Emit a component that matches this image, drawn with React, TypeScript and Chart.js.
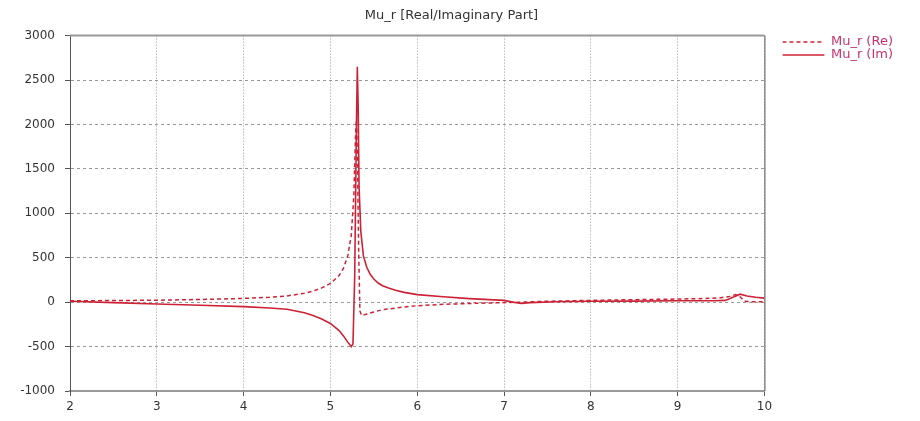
import React, { useEffect, useRef } from "react";
import { Chart, registerables } from "chart.js";

Chart.register(...registerables);

const chartTitle = "Mu_r [Real/Imaginary Part]";
const seriesLabels = ["Mu_r (Re)", "Mu_r (Im)"];

const xRange = [2, 10];
const yRange = [-1000, 3000];

// Real part (dashed)
const reFreq = [
  2.0, 2.5, 3.0, 3.5, 4.0, 4.3, 4.5, 4.7, 4.8, 4.9, 5.0, 5.1, 5.15, 5.2, 5.24,
  5.27, 5.29, 5.3, 5.31, 5.325, 5.34, 5.36, 5.4, 5.5, 5.6, 5.8, 6.0, 6.3, 6.6,
  7.0, 7.2, 7.5, 8.0, 8.5, 9.0, 9.3, 9.5, 9.6, 9.67, 9.72, 9.77, 9.85, 10.0,
];
const reValues = [
  15, 18, 22, 30, 42, 55, 70, 100, 125, 160, 210, 300, 380, 520, 750,
  1200, 1900, 2050, 1700, 600, -100, -150, -140, -110, -85, -60, -40, -25, -15,
  -5, 0, 10, 20, 28, 35, 40, 50, 65, 85, 60, 10, 5, 5,
];

// Imaginary part (solid)
const imFreq = [
  2.0, 2.5, 3.0, 3.5, 4.0, 4.3, 4.5, 4.7, 4.8, 4.9, 5.0, 5.1, 5.15, 5.2, 5.24,
  5.26, 5.28, 5.3, 5.31, 5.32, 5.33, 5.35, 5.38, 5.42, 5.46, 5.5, 5.55, 5.6,
  5.67, 5.75, 5.85, 6.0, 6.3, 6.6, 7.0, 7.1, 7.2, 7.3, 7.6, 8.0, 8.5, 9.0, 9.4,
  9.55, 9.65, 9.72, 9.8, 9.9, 10.0,
];
const imValues = [
  10, -5, -20, -35, -50, -65, -80, -120, -150, -190, -240, -320, -380, -450, -500,
  -470, 300, 2000, 2650, 2200, 1300, 800, 520, 390, 310, 260, 215, 185,
  160, 135, 110, 85, 60, 40, 20, 0, -15, -5, 5, 10, 12, 15, 15,
  20, 60, 90, 70, 55, 45,
];

const LINE_COLOR = "#cc2236";
const RE_DASH = [4, 3];
const FONT_FAMILY = "'DejaVu Sans', Verdana, sans-serif";

const toPoints = (xs: number[], ys: number[]) => xs.map((x, i) => ({ x, y: ys[i] }));

const framePlugin = {
  id: "frame",
  afterDraw(chart: any) {
    const { ctx, chartArea } = chart;
    const { left, top, right, bottom } = chartArea;
    ctx.save();
    ctx.strokeStyle = "#999";
    ctx.lineWidth = 2;
    ctx.beginPath();
    ctx.moveTo(left, top);
    ctx.lineTo(right, top);
    ctx.stroke();
    ctx.strokeStyle = "#555";
    ctx.lineWidth = 1;
    ctx.beginPath();
    ctx.moveTo(right + 0.5, top);
    ctx.lineTo(right + 0.5, bottom);
    ctx.stroke();
    ctx.restore();
  },
};

export default function App() {
  const canvasRef = useRef<HTMLCanvasElement | null>(null);

  useEffect(() => {
    document.body.style.margin = "0";
    const canvas = canvasRef.current;
    if (!canvas) return;
    const chart = new Chart(canvas, {
      type: "line",
      data: {
        datasets: [
          {
            label: seriesLabels[0],
            data: toPoints(reFreq, reValues),
            borderColor: LINE_COLOR,
            backgroundColor: LINE_COLOR,
            borderWidth: 1.5,
            borderDash: RE_DASH,
            pointRadius: 0,
            tension: 0,
            yAxisID: "y",
          },
          {
            label: seriesLabels[1],
            data: toPoints(imFreq, imValues),
            borderColor: LINE_COLOR,
            backgroundColor: LINE_COLOR,
            borderWidth: 1.6,
            pointRadius: 0,
            tension: 0,
            yAxisID: "y",
          },
        ],
      },
      options: {
        animation: false,
        responsive: true,
        maintainAspectRatio: false,
        devicePixelRatio: 1,
        layout: { padding: { left: 0, right: 17, top: 0, bottom: 0 } },
        font: { family: FONT_FAMILY },
        plugins: {
          title: {
            display: true,
            text: chartTitle,
            color: "#333",
            font: { family: FONT_FAMILY, size: 13, weight: "normal" },
            padding: { top: 8, bottom: 12 },
          },
          legend: {
            position: "right",
            align: "start",
            fullSize: false,
            labels: {
              usePointStyle: true,
              pointStyle: "line",
              pointStyleWidth: 42,
              padding: 0,
              color: "#c8336e",
              font: { family: FONT_FAMILY, size: 13 },
              generateLabels: (ch: any) => {
                const items = Chart.defaults.plugins.legend.labels.generateLabels(ch);
                return items.map((it: any, i: number) => ({
                  ...it,
                  lineDash: i === 0 ? RE_DASH : [],
                  lineWidth: 1.5,
                  strokeStyle: LINE_COLOR,
                  fillStyle: LINE_COLOR,
                  fontColor: "#c8336e",
                  pointStyle: "line",
                }));
              },
            },
          },
          tooltip: { enabled: false },
        },
        scales: {
          x: {
            type: "linear",
            min: xRange[0],
            max: xRange[1],
            ticks: {
              stepSize: 1,
              padding: 4,
              color: "#333",
              font: { family: FONT_FAMILY, size: 12 },
              callback: (v: any) => String(v),
            },
            grid: {
              color: "#999",
              lineWidth: 1,
              tickLength: 5,
              tickColor: "#555",
              tickBorderDash: [],
            },
            border: { color: "#999", width: 2, dash: [1, 2] },
            afterFit: (s: any) => {
              s.height = 30;
            },
          },
          y: {
            type: "linear",
            position: "left",
            min: yRange[0],
            max: yRange[1],
            ticks: {
              stepSize: 500,
              padding: 10,
              color: "#333",
              font: { family: FONT_FAMILY, size: 12 },
              callback: (v: any) => String(v),
            },
            grid: {
              color: "#999",
              lineWidth: 1,
              tickLength: 5,
              tickColor: "#555",
              tickBorderDash: [],
            },
            border: { color: "#555", width: 1, dash: [3, 3] },
            afterFit: (s: any) => {
              s.width = 70;
            },
          },
          yR: {
            type: "linear",
            position: "right",
            display: true,
            grid: { display: false, drawTicks: false },
            border: { display: false },
            ticks: { display: false },
            afterFit: (s: any) => {
              s.width = 18;
            },
          },
        },
      } as any,
      plugins: [framePlugin],
    });
    return () => chart.destroy();
  }, []);

  return (
    <div style={{ position: "absolute", left: 0, top: 0, width: 920, height: 421 }}>
      <canvas ref={canvasRef} />
    </div>
  );
}
